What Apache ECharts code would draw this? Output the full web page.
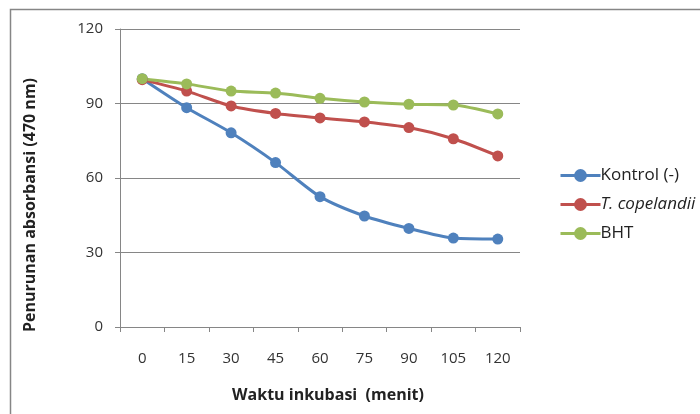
<!DOCTYPE html>
<html>
<head>
<meta charset="utf-8">
<script src="https://cdn.jsdelivr.net/npm/echarts@6/dist/echarts.min.js"></script>
<style>
  html, body { margin: 0; padding: 0; background: #fff; overflow: hidden; }
  /* canvas runs past the right edge so the legend text can spill over it */
  #chart { width: 760px; height: 414px; }
</style>
</head>
<body>
<div id="chart"></div>
<script>
// Incubation time (minutes) on the category axis
const waktu = ['0', '15', '30', '45', '60', '75', '90', '105', '120'];

// Absorbance decrease at 470 nm for each treatment
const kontrol = [100, 88.3, 78.2, 66.2, 52.5, 44.7, 39.7, 35.8, 35.4];
const copelandii = [99.6, 95.0, 89.0, 86.0, 84.2, 82.6, 80.3, 75.8, 68.9];
const bht = [100, 97.9, 95.0, 94.2, 92.1, 90.6, 89.7, 89.4, 85.8];

const yTicks = [0, 30, 60, 90, 120];

const FONT = "'Open Sans', sans-serif";
const GRAY = '#868686';

const chart = echarts.init(document.getElementById('chart'), null, { renderer: 'canvas' });

function lineSeries(name, data, color) {
  return {
    name: name,
    type: 'line',
    data: data,
    smooth: 0.25,
    symbol: 'circle',
    symbolSize: 11,
    lineStyle: { color: color, width: 3 },
    itemStyle: { color: color },
    emphasis: { disabled: true }
  };
}

chart.setOption({
  animation: false,
  grid: { left: 120, right: 240, top: 29, bottom: 87 },
  xAxis: {
    type: 'category',
    data: waktu,
    boundaryGap: true,
    axisLine: { lineStyle: { color: GRAY, width: 1 } },
    axisTick: { show: true, length: 5, lineStyle: { color: GRAY } },
    axisLabel: { color: '#333', fontSize: 15, fontFamily: FONT, margin: 24 }
  },
  yAxis: {
    type: 'value',
    min: yTicks[0],
    max: yTicks[yTicks.length - 1],
    interval: 30,
    axisLine: { show: true, lineStyle: { color: GRAY, width: 1 } },
    axisTick: { show: true, length: 5, lineStyle: { color: GRAY } },
    splitLine: { lineStyle: { color: GRAY, width: 1 } },
    axisLabel: { color: '#333', fontSize: 15, fontFamily: FONT, margin: 17 }
  },
  legend: {
    orient: 'vertical',
    left: 559,
    top: 167,
    padding: 0,
    itemGap: 12,
    itemWidth: 40,
    itemHeight: 16,
    lineStyle: { width: 3 },
    data: [
      'Kontrol (-)',
      { name: 'T. copelandii', textStyle: { fontStyle: 'italic' } },
      'BHT'
    ],
    textStyle: {
      color: '#222', fontSize: 17, fontFamily: FONT, padding: [0, 0, 0, -5]
    }
  },
  graphic: [
    {
      type: 'rect',
      silent: true,
      shape: { x: 10.5, y: 9.5, width: 760, height: 430 },
      style: { fill: null, stroke: GRAY, lineWidth: 1.5 }
    },
    {
      type: 'text',
      silent: true,
      x: 30,
      y: 205,
      rotation: Math.PI / 2,
      style: {
        text: 'Penurunan absorbansi (470 nm)',
        font: 'bold 16px ' + FONT,
        fill: '#222',
        align: 'center',
        verticalAlign: 'middle'
      }
    },
    {
      type: 'text',
      silent: true,
      x: 328,
      y: 395,
      style: {
        text: 'Waktu inkubasi  (menit)',
        font: 'bold 16px ' + FONT,
        fill: '#222',
        align: 'center',
        verticalAlign: 'middle'
      }
    }
  ],
  series: [
    lineSeries('Kontrol (-)', kontrol, '#4F81BD'),
    lineSeries('T. copelandii', copelandii, '#C0504D'),
    lineSeries('BHT', bht, '#9BBB59')
  ]
});
</script>
</body>
</html>
